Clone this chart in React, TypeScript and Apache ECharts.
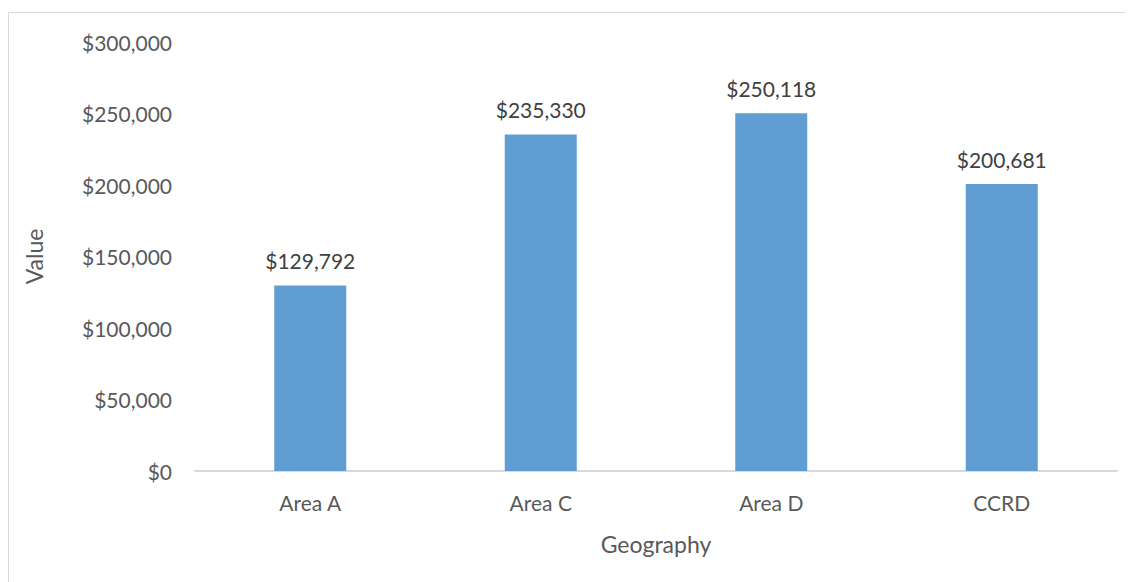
import React, { useEffect, useRef } from "react";
import * as echarts from "echarts";

const categories = ["Area A", "Area C", "Area D", "CCRD"];
const values = [129792, 235330, 250118, 200681];
const yTicks = [0, 50000, 100000, 150000, 200000, 250000, 300000];

const fmt = (v: number) => "$" + v.toLocaleString("en-US");

export default function App() {
  const ref = useRef<HTMLDivElement>(null);
  useEffect(() => {
    if (!ref.current) return;
    const chart = echarts.init(ref.current, undefined, { renderer: "svg" });
    const font = "Lato, 'Open Sans', sans-serif";
    chart.setOption({
      animation: false,
      textStyle: { fontFamily: font },
      grid: { left: 186, width: 922, top: 29, height: 429, containLabel: false },
      xAxis: {
        type: "category",
        data: categories,
        name: "Geography",
        nameLocation: "middle",
        nameGap: 61,
        nameTextStyle: { color: "#595959", fontSize: 23, fontFamily: font },
        axisLine: { lineStyle: { color: "#d9d9d9", width: 2 } },
        axisTick: { show: false },
        axisLabel: { color: "#595959", fontSize: 21, margin: 21, fontFamily: font },
      },
      yAxis: {
        type: "value",
        min: yTicks[0],
        max: yTicks[yTicks.length - 1],
        interval: 50000,
        name: "Value",
        nameLocation: "middle",
        nameGap: 150,
        nameRotate: 90,
        nameTextStyle: { color: "#595959", fontSize: 23, fontFamily: font },
        splitLine: { show: false },
        axisLine: { show: false },
        axisTick: { show: false },
        axisLabel: {
          color: "#595959",
          fontSize: 21,
          margin: 23,
          fontFamily: font,
          formatter: (v: number) => fmt(v),
        },
      },
      series: [
        {
          type: "bar",
          data: values,
          barWidth: 72,
          itemStyle: { color: "#5f9dd3" },
          label: {
            show: true,
            position: "top",
            distance: 14,
            color: "#404040",
            fontSize: 21,
            fontFamily: font,
            formatter: (p: any) => fmt(p.value),
          },
        },
      ],
    });
    return () => chart.dispose();
  }, []);
  return (
    <div
      style={{
        marginTop: 4,
        width: 1140,
        height: 600,
        border: "1px solid #d9d9d9",
        boxSizing: "border-box",
      }}
    >
      <div ref={ref} style={{ width: 1124, height: 569 }} />
    </div>
  );
}
